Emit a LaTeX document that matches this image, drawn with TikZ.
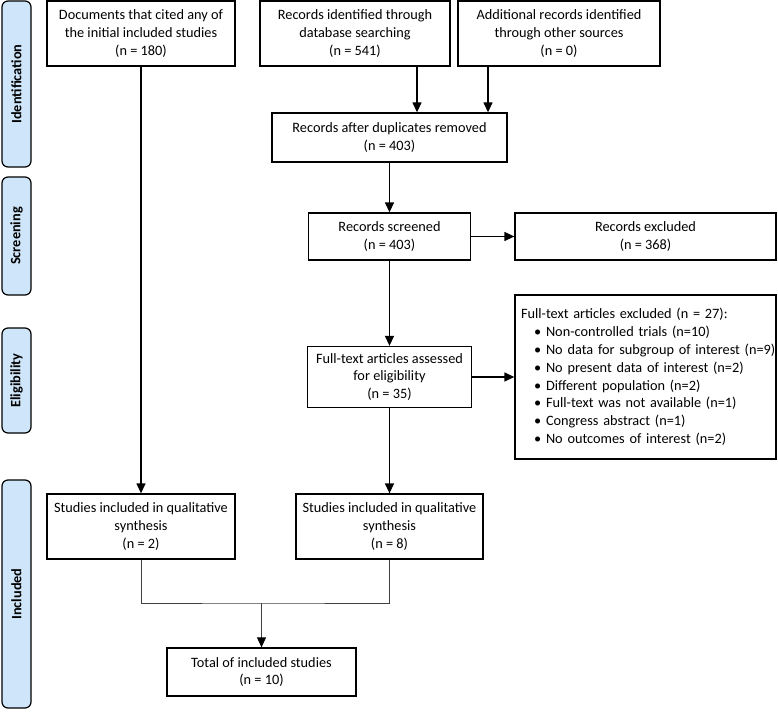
\documentclass[tikz,border=0pt]{standalone}
\usepackage{fontspec}
\setmainfont{Carlito}
\usepackage{xcolor}
\usetikzlibrary{arrows.meta}

\definecolor{stagefill}{HTML}{CFE6FA}
\newcommand{\flowfont}{\fontsize{14.3}{17.8}\selectfont}
\newcommand{\exitem}[1]{\mbox{\hspace*{13pt}\makebox[12pt][l]{\textbullet}#1}}

\begin{document}
\begin{tikzpicture}[x=1pt,y=-1pt,
    box/.style={draw,line width=1.3pt,align=center,inner sep=0pt,font=\flowfont},
    stage/.style={draw,line width=1.2pt,rounded corners=6pt,fill=stagefill,rotate=90,
      inner sep=0pt,minimum height=29pt,font=\flowfont\bfseries},
    arr/.style={line width=1.3pt,-{Triangle[length=10pt,width=9pt]}},
    merge/.style={line width=0.8pt,black!75}]
  \useasboundingbox (0,0) rectangle (778,714);

  % Stage labels
  \node[stage,minimum width=166pt] (sid) at (16.5,84) {Identification};
  \node[stage,minimum width=118pt] (sscr) at (16.5,236) {Screening};
  \node[stage,minimum width=105pt] (selig) at (16.5,380.5) {Eligibility};
  \node[stage,minimum width=228pt] (sinc) at (16.5,594) {Included};

  % Identification
  \node[box,minimum width=188pt,minimum height=65pt] (docs) at (141,33.5)
    {Documents that cited any of\\the initial included studies\\(n = 180)};
  \node[box,minimum width=190pt,minimum height=65pt] (rid) at (355,33.5)
    {Records identified through\\database searching\\(n = 541)};
  \node[box,minimum width=202pt,minimum height=65pt] (add) at (559,33.5)
    {Additional records identified\\through other sources\\(n = 0)};
  \node[box,minimum width=235pt,minimum height=49pt] (dup) at (389.5,137.5)
    {Records after duplicates removed\\(n = 403)};

  % Screening
  \node[box,minimum width=162pt,minimum height=47pt] (scr) at (389.5,236.5)
    {Records screened\\(n = 403)};
  \node[box,minimum width=261pt,minimum height=47pt] (exc) at (645.5,236.5)
    {Records excluded\\(n = 368)};

  % Eligibility
  \node[box,minimum width=164pt,minimum height=61pt] (fta) at (389.5,377)
    {Full-text articles assessed\\for eligibility\\(n = 35)};
  \node[box,align=left,text width=249pt,inner xsep=6pt,minimum height=164pt] (ftx) at (645.5,377)
    {Full-text articles excluded (n = 27):\\
     \exitem{Non-controlled trials (n=10)}\\
     \exitem{No data for subgroup of interest (n=9)}\\
     \exitem{No present data of interest (n=2)}\\
     \exitem{Different population (n=2)}\\
     \exitem{Full-text was not available (n=1)}\\
     \exitem{Congress abstract (n=1)}\\
     \exitem{No outcomes of interest (n=2)}};

  % Included
  \node[box,minimum width=188pt,minimum height=65pt] (inc1) at (141,526.5)
    {Studies included in qualitative\\synthesis\\(n = 2)};
  \node[box,minimum width=187pt,minimum height=65pt] (inc2) at (389.5,526.5)
    {Studies included in qualitative\\synthesis\\(n = 8)};
  \node[box,minimum width=189pt,minimum height=48pt] (tot) at (261.5,672)
    {Total of included studies\\(n = 10)};

  % Connectors
  \coordinate (ridx) at (417,0);
  \coordinate (addx) at (488,0);
  \coordinate (mrg) at (261.5,603);
  \draw[arr] (rid.south -| ridx) -- (dup.north -| ridx);
  \draw[arr] (add.south -| addx) -- (dup.north -| addx);
  \draw[arr] (dup) -- (scr);
  \draw[arr] (scr) -- (exc);
  \draw[arr] (scr) -- (fta);
  \draw[arr] (fta) -- (ftx);
  \draw[arr] (fta) -- (inc2);
  \draw[arr] (docs) -- (inc1);
  \draw[merge] (inc1.south) |- (mrg) -| (inc2.south);
  \draw[merge,-{Triangle[length=10pt,width=9pt,fill=black,color=black]}] (mrg) -- (tot);
\end{tikzpicture}
\end{document}
